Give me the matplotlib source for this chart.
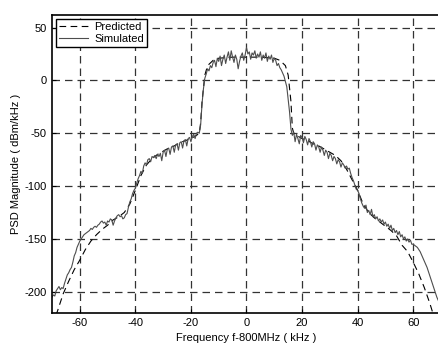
import numpy as np
import matplotlib

matplotlib.use("Agg")
import matplotlib.pyplot as plt

plt.rcParams["font.family"] = ["Liberation Sans", "DejaVu Sans"]
plt.rcParams["axes.unicode_minus"] = False  # plain hyphen minus like the original

# --- simulated PSD, every 0.5 kHz from -70 to 70 ---
sim_freq = np.arange(-70.0, 70.01, 0.5)
sim_psd = [
    # -70 .. -60
    -205, -203, -204, -199, -197, -195, -198, -196, -197, -192, -188,
    -184, -182, -179, -177, -172, -166, -163, -158, -155, -152,
    # -59.5 .. -40
    -150, -148, -146, -145, -144, -143, -142, -140, -141, -139,
    -138, -139, -137, -136, -134, -133, -135, -134, -137, -133,
    -134, -131, -132, -137, -133, -130, -128, -127, -129, -128,
    -131, -130, -127, -126, -120, -115, -112, -107, -104, -102,
    # -39.5 .. -17
    -97, -93, -90, -86, -88, -81, -78, -80, -75, -74,
    -77, -72, -73, -71, -74, -70, -72, -69, -76, -68,
    -66, -72, -65, -64, -70, -63, -62, -68, -61, -60,
    -66, -59, -58, -64, -57, -56, -62, -55, -54, -58,
    -53, -51, -55, -50, -49, -50,
    # -16.5 .. 16.5
    -42, -22, -8, 2, 6, 11, 9, 14, 12, 17,
    19, 13, 21, 18, 23, 14, 20, 24, 16, 22,
    27, 19, 28, 22, 17, 24, 20, 11, 18, 23,
    26, 19, 24, 31, 25, 27, 20, 26, 24, 28,
    21, 25, 22, 27, 19, 24, 21, 26, 18, 23,
    20, 24, 17, 21, 19, 14, 16, 12, 10, 7,
    4, -1, -6, -18, -30, -46, -52,
    # 17 .. 40
    -49, -58, -51, -55, -60, -52, -54, -59, -53, -56,
    -61, -55, -58, -63, -58, -60, -66, -61, -63, -68,
    -63, -66, -71, -66, -68, -74, -69, -71, -76, -72,
    -74, -79, -75, -77, -82, -78, -80, -83, -81, -84,
    -83, -88, -92, -95, -99, -103, -104,
    # 40.5 .. 70
    -107, -112, -116, -119, -121, -118, -125, -123, -127, -122,
    -129, -127, -131, -129, -133, -131, -134, -132, -136, -134,
    -138, -136, -140, -137, -142, -140, -144, -142, -146, -143,
    -148, -146, -150, -148, -152, -150, -153, -151, -155, -155,
    -156, -157, -158, -160, -162, -165, -168, -171, -174, -177,
    -181, -185, -189, -193, -197, -201, -205, -208, -211, -214,
]

# --- predicted PSD (smooth) ---
pred_freq = [-70, -68, -66, -64, -62, -60, -58, -56, -54, -52, -50, -48, -46,
             -44, -42, -40, -38, -36, -34, -32, -30, -28, -26, -24, -22, -20,
             -18, -17, -16.5, -16, -15, -14, -12, -10, -5, 0, 5, 10, 12, 14,
             15, 16, 16.5, 17, 18, 20, 22, 24, 26, 28, 30, 32, 34, 36, 38, 40,
             42, 44, 46, 48, 50, 52, 54, 56, 58, 60, 62, 64, 66, 68, 70]
pred_psd = [-232, -218, -202, -190, -179, -170, -160, -152, -146, -141, -137,
            -132, -129, -125, -117, -104, -90, -80, -74, -70, -67, -64, -62,
            -59, -57, -55, -52, -50, -40, -20, 5, 14, 19, 21, 22, 22, 22, 21,
            19, 14, 5, -20, -45, -50, -52, -55, -57, -60, -62, -65, -68, -71,
            -76, -84, -94, -104, -117, -125, -130, -134, -138, -142, -147,
            -156, -162, -172, -183, -196, -211, -228, -245]

fig = plt.figure(figsize=(4.39, 3.54), dpi=100, facecolor="white")
ax = fig.add_axes([0.1185, 0.116, 0.886, 0.842])

ax.plot(pred_freq, pred_psd, color="black", lw=0.8, ls=(0, (6, 4)), label="Predicted")
ax.plot(sim_freq, sim_psd, color="#4d4d4d", lw=0.8, label="Simulated")

ax.set_xlim(-70, 70)
ax.set_ylim(-220, 62)
ax.set_xticks([-60, -40, -20, 0, 20, 40, 60])
ax.set_yticks([-200, -150, -100, -50, 0, 50])
ax.grid(True, color="#333333", lw=0.9, ls=(0, (6, 4)))
ax.tick_params(direction="in", length=3, width=0.8, labelsize=8, pad=4)
for s in ax.spines.values():
    s.set_linewidth(1.2)

ax.set_xlabel("Frequency f-800MHz ( kHz )", fontsize=8, labelpad=3)
ax.set_ylabel("PSD Magnitude ( dBm/kHz )", fontsize=8, labelpad=2)

leg = ax.legend(loc="upper left", fontsize=8, frameon=True, fancybox=False,
                edgecolor="black", framealpha=1, borderpad=0.25,
                handlelength=2.6, handletextpad=0.6, labelspacing=0.2,
                borderaxespad=0.35)
leg.get_frame().set_linewidth(1.0)

fig.savefig("out.png", dpi=100, facecolor="white")
